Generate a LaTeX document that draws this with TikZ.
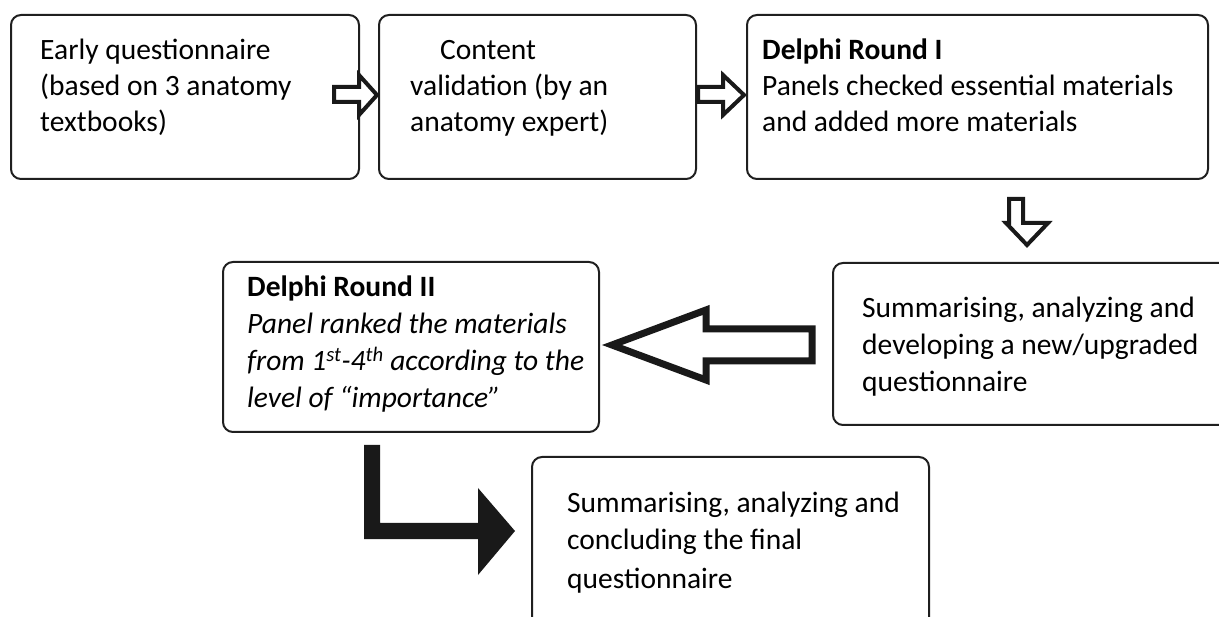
\documentclass[tikz,border=0pt]{standalone}
\usepackage{fontspec}
\setmainfont{Carlito}
\begin{document}
\begin{tikzpicture}[x=1pt,y=-1pt,
  box/.style={draw=black!88, line width=2pt, rounded corners=10pt, anchor=north west, inner sep=0pt},
  txt/.style={anchor=base west, inner sep=0pt, font=\fontsize{29.5}{36}\selectfont},
  blk/.style={draw=black!90, line width=4pt, fill=white, line join=miter},
  bigblk/.style={draw=black!90, line width=7pt, fill=white, line join=miter},
  solidblk/.style={fill=black!90, draw=none}]
\useasboundingbox (0,0) rectangle (1219,617);
\clip (0,0) rectangle (1219,617);
% boxes
\node[box, minimum width=348pt, minimum height=164pt] (b1) at (10,14) {};
\node[box, minimum width=317pt, minimum height=164pt] (b2) at (378,14) {};
\node[box, minimum width=461pt, minimum height=164pt] (b3) at (746,14) {};
\node[box, minimum width=400pt, minimum height=162pt] (b4) at (832,262) {};
\node[box, minimum width=376pt, minimum height=170pt] (b5) at (222,261) {};
\node[box, minimum width=397pt, minimum height=190pt] (b6) at (531,456) {};
% texts
\node[txt] (t1a) at (40,60) {Early questionnaire};
\node[txt] (t1b) at (40,96) {(based on 3 anatomy};
\node[txt] (t1c) at (40,132) {textbooks)};
\node[txt] (t2a) at (440,60) {Content};
\node[txt] (t2b) at (410,96) {validation (by an};
\node[txt] (t2c) at (410,132) {anatomy expert)};
\node[txt] (t3a) at (762,60) {\bfseries Delphi Round I};
\node[txt] (t3b) at (762,96) {Panels checked essential materials};
\node[txt] (t3c) at (762,132) {and added more materials};
\node[txt] (t4a) at (862,318) {Summarising, analyzing and};
\node[txt] (t4b) at (862,355) {developing a new/upgraded};
\node[txt] (t4c) at (862,392) {questionnaire};
\node[txt] (t5a) at (247,297) {\bfseries Delphi Round II};
\node[txt] (t5b) at (247,334) {\itshape Panel ranked the materials};
\node[txt] (t5c) at (247,371) {\itshape from 1\textsuperscript{st}-4\textsuperscript{th} according to the};
\node[txt] (t5d) at (247,408) {\itshape level of “importance”};
\node[txt] (t6a) at (567,513) {Summarising, analyzing and};
\node[txt] (t6b) at (567,550) {concluding the final};
\node[txt] (t6c) at (567,588) {questionnaire};
% block arrows
\draw[blk] (334,87) -- (359,87) -- (359,75) -- (377,95) -- (359,115) -- (359,102) -- (334,102) -- cycle;
\draw[blk] (698,87) -- (723,87) -- (723,75) -- (744,95) -- (723,115) -- (723,102) -- (698,102) -- cycle;
\draw[blk] (1009,199) -- (1023,199) -- (1023,223) -- (1048,223) -- (1027,245) -- (1006,223) -- (1009,223) -- cycle;
\draw[bigblk] (812,329) -- (706,329) -- (706,310) -- (612,345) -- (706,380) -- (706,361) -- (812,361) -- cycle;
\fill[solidblk] (364,445) -- (380,445) -- (380,523) -- (478,523) -- (478,488) -- (515,531) -- (478,575) -- (478,539) -- (364,539) -- cycle;
\end{tikzpicture}
\end{document}
